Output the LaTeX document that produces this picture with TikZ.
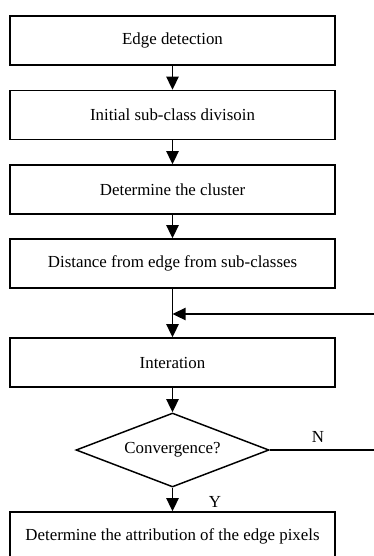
\documentclass[tikz,border=0pt]{standalone}
\usepackage{fontspec}
\setmainfont{Liberation Serif}
\usetikzlibrary{arrows.meta,positioning,shapes.geometric}
\tikzset{
  stepbox/.style  = {rectangle, draw, line width=1.05pt, minimum width=8.125cm,
                     minimum height=1.225cm, inner sep=0pt},
  decision/.style = {diamond, draw, line width=1.05pt, aspect=2.6, minimum width=4.825cm,
                     minimum height=1.85cm, inner sep=0pt},
  flow/.style     = {-{Triangle[length=3.3mm,width=3.1mm]}, line width=1.05pt},
  plainwire/.style= {line width=1.05pt},
  branchlabel/.style = {font=\fontsize{12}{14}\selectfont},
}

\begin{document}
\begin{tikzpicture}[every node/.style={font=\fontsize{12}{14}\selectfont}]
  \useasboundingbox (0,0) rectangle (9.35,-13.9);

  \node[stepbox]  (edge)    at (4.3125,-1.0125)  {Edge detection};
  \node[stepbox]  (init)    at (4.3125,-2.875)   {Initial sub-class divisoin};
  \node[stepbox]  (cluster) at (4.3125,-4.7375)  {Determine the cluster};
  \node[stepbox]  (dist)    at (4.3125,-6.5875)  {Distance from edge from sub-classes};
  \node[stepbox]  (iter)    at (4.3125,-9.0625)  {Interation};
  \node[decision] (conv)    at (4.3125,-11.25)   {Convergence?};
  \node[stepbox]  (attr)    at (4.3125,-13.4125) {Determine the attribution of the edge pixels};

  \coordinate (fbR) at (9.35,-7.85);   % loop back enters here
  \coordinate (noR) at (9.35,-11.25);  % N branch leaves here

  \draw[flow] (edge) -- (init);
  \draw[flow] (init) -- (cluster);
  \draw[flow] (cluster) -- (dist);
  \draw[flow] (dist) -- (iter);
  \draw[flow] (fbR) -- (fbR -| dist.south);
  \draw[flow] (iter) -- (conv);
  \draw[flow] (conv) -- (attr);
  \draw[plainwire] (conv.east) -- (noR);

  \node[branchlabel] (nlab) at (7.95,-10.925) {N};
  \node[branchlabel] (ylab) at (5.375,-12.55) {Y};
\end{tikzpicture}
\end{document}
